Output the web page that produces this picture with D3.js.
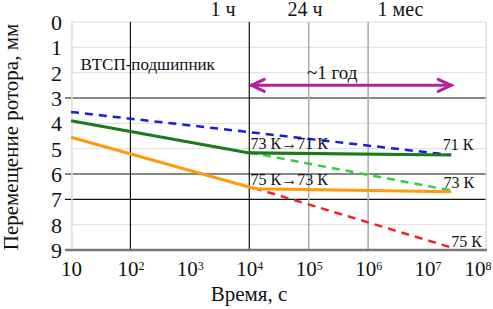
<!DOCTYPE html>
<html>
<head>
<meta charset="utf-8">
<script src="https://cdn.jsdelivr.net/npm/d3@7"></script>
</head>
<body style="margin:0; background:#fff">
<div id="chart"></div>
<script>
// series: [time in s, rotor displacement in mm]
const blueDashed = [[10, 3.55], [2.5e7, 5.25]];
const greenSolid = [[10, 3.9], [1e4, 5.17], [2.5e7, 5.25]];
const greenDashed = [[1e4, 5.15], [2.5e7, 6.65]];
const orangeSolid = [[10, 4.55], [1.25e4, 6.58], [2.5e7, 6.7]];
const redDashed = [[1.2e4, 6.55], [2.5e7, 8.9]];

// axis ticks
const yTicks = [0, 1, 2, 3, 4, 5, 6, 7, 8, 9];
const xTicks = [1e1, 1e2, 1e3, 1e4, 1e5, 1e6, 1e7, 1e8];
const topTimes = [3600, 86400, 3.5e6];
const topLabels = ["1 ч", "24 ч", "1 мес"];

// annotations
const notes = [
  { text: "ВТСП-подшипник", t: 14.5, v: 1.9 },
  { text: "73 К→71 К", t: 1.05e4, v: 5.0 },
  { text: "71 К", t: 1.8e7, v: 5.05 },
  { text: "75 К→73 К", t: 1.05e4, v: 6.42 },
  { text: "73 К", t: 1.85e7, v: 6.55 },
  { text: "75 К", t: 2.5e7, v: 8.88 }
];
const spanFrom = 1e4, spanTo = 2.5e7, spanLevel = 2.5, spanText = "~1 год";

const w = 493, h = 309;
const mLeft = 71, mRight = 487, mTop = 22, mBottom = 250;
const font = '"Liberation Serif"';

const x = d3.scaleLog().domain([10, 1e8]).range([mLeft, mRight]);
const y = d3.scaleLinear().domain([0, 9]).range([mTop, mBottom]);

const svg = d3.select("#chart").append("svg")
  .attr("width", w).attr("height", h);

// grid
const darkRows = [3, 6, 7];
const darkCols = [1e2, 1e4];
const grayCols = [1e5, 1e6];

svg.append("g").selectAll("line")
  .data(yTicks.filter((d) => d !== 9))
  .enter().append("line")
  .attr("x1", (d) => darkRows.includes(d) ? mLeft - 6 : mLeft)
  .attr("x2", mRight)
  .attr("y1", (d) => y(d)).attr("y2", (d) => y(d))
  .attr("stroke", (d) => darkRows.includes(d) ? "#111" : "#ddd")
  .attr("stroke-width", (d) => darkRows.includes(d) ? 1.2 : 1);

// frame (left + right light)
svg.append("line").attr("x1", mLeft + 1).attr("x2", mLeft + 1)
  .attr("y1", mTop).attr("y2", mBottom).attr("stroke", "#ddd").attr("stroke-width", 1.5);
svg.append("line").attr("x1", mRight - 1).attr("x2", mRight - 1)
  .attr("y1", mTop).attr("y2", mBottom).attr("stroke", "#ddd").attr("stroke-width", 1.5);

svg.append("g").selectAll("line")
  .data(darkCols.concat(grayCols))
  .enter().append("line")
  .attr("x1", (d) => x(d)).attr("x2", (d) => x(d))
  .attr("y1", mTop).attr("y2", mBottom)
  .attr("stroke", (d) => darkCols.includes(d) ? "#111" : "#aaa")
  .attr("stroke-width", (d) => darkCols.includes(d) ? 1.2 : 1.5);

// bottom axis line
svg.append("line").attr("x1", mLeft - 6).attr("x2", mRight)
  .attr("y1", y(9)).attr("y2", y(9))
  .attr("stroke", "#777").attr("stroke-width", 2.5);

// y axis labels
const yAxis = d3.axisLeft(y).tickValues(yTicks).tickSize(0).tickPadding(9);
svg.append("g")
  .attr("transform", "translate(" + mLeft + ",0)")
  .call(yAxis)
  .call((g) => g.select(".domain").remove())
  .selectAll("text")
  .attr("fill", "#111")
  .style("font-family", font)
  .style("font-size", "22px")
  .attr("dy", "0.34em");

// x axis labels with superscripts
const xAxis = d3.axisBottom(x).tickValues(xTicks).tickSize(0).tickPadding(6).tickFormat("");
const xg = svg.append("g")
  .attr("transform", "translate(0," + mBottom + ")")
  .call(xAxis)
  .call((g) => g.select(".domain").remove());
xg.selectAll(".tick text").each(function (d) {
  const p = Math.round(Math.log10(d));
  const t = d3.select(this).attr("dy", "0.95em")
    .attr("fill", "#111")
    .style("font-family", font).style("font-size", "21px");
  if (d === 1e8) t.attr("text-anchor", "end").attr("x", 4);
  t.append("tspan").style("font-family", font).text("10");
  if (p > 1) {
    t.append("tspan").attr("dy", "-0.5em")
      .style("font-family", font).style("font-size", "12px").text(p);
  }
});

// top time labels
svg.append("g").selectAll("text")
  .data(topTimes)
  .enter().append("text")
  .attr("x", (d) => x(d)).attr("y", 16)
  .attr("text-anchor", "middle")
  .attr("fill", "#111")
  .style("font-family", font)
  .style("font-size", "20px")
  .text((d, i) => topLabels[i]);

// lines
const line = d3.line().x((d) => x(d[0])).y((d) => y(d[1]));
const series = [
  { data: blueDashed, color: "#1c1cdc", dash: "8,6", width: 2.5 },
  { data: greenDashed, color: "#33cc44", dash: "8,6", width: 2.5 },
  { data: redDashed, color: "#e8262e", dash: "8,6", width: 2.5 },
  { data: orangeSolid, color: "#ff9a0a", dash: null, width: 3 },
  { data: greenSolid, color: "#1b7a1b", dash: null, width: 3.2 }
];
svg.append("g").selectAll("path")
  .data(series)
  .enter().append("path")
  .attr("d", (d) => line(d.data))
  .attr("fill", "none")
  .attr("stroke", (d) => d.color)
  .attr("stroke-width", (d) => d.width)
  .attr("stroke-dasharray", (d) => d.dash);

// span arrow
const ax1 = x(spanFrom) + 2, ax2 = x(spanTo), ay = y(spanLevel);
const arrow = svg.append("g").attr("stroke", "#b0209f").attr("stroke-width", 3)
  .attr("fill", "none").attr("stroke-linecap", "round");
arrow.append("line").attr("x1", ax1).attr("x2", ax2).attr("y1", ay).attr("y2", ay);
arrow.append("path").attr("d", `M${ax1 + 13},${ay - 6} L${ax1},${ay} L${ax1 + 13},${ay + 6}`);
arrow.append("path").attr("d", `M${ax2 - 13},${ay - 6} L${ax2},${ay} L${ax2 - 13},${ay + 6}`);
svg.append("text")
  .attr("x", x(Math.sqrt(spanFrom * spanTo)) - 18).attr("y", ay - 6)
  .attr("text-anchor", "middle")
  .attr("fill", "#111")
  .style("font-family", font)
  .style("font-size", "19px")
  .text(spanText);

// notes
svg.append("g").selectAll("text")
  .data(notes)
  .enter().append("text")
  .attr("x", (d) => x(d.t)).attr("y", (d) => y(d.v))
  .attr("fill", "#111")
  .style("font-family", font)
  .style("font-size", (d, i) => i === 0 ? "17px" : "16px")
  .text((d) => d.text);

// axis titles
svg.append("text")
  .attr("x", (mLeft + mRight) / 2 - 30).attr("y", 301)
  .attr("text-anchor", "middle")
  .attr("fill", "#111")
  .style("font-family", font)
  .style("font-size", "21px")
  .text("Время, с");

svg.append("text")
  .attr("transform", "rotate(-90)")
  .attr("x", -137).attr("y", 18)
  .attr("text-anchor", "middle")
  .attr("fill", "#111")
  .style("font-family", font)
  .style("font-size", "21px")
  .text("Перемещение ротора, мм");
</script>
</body>
</html>
